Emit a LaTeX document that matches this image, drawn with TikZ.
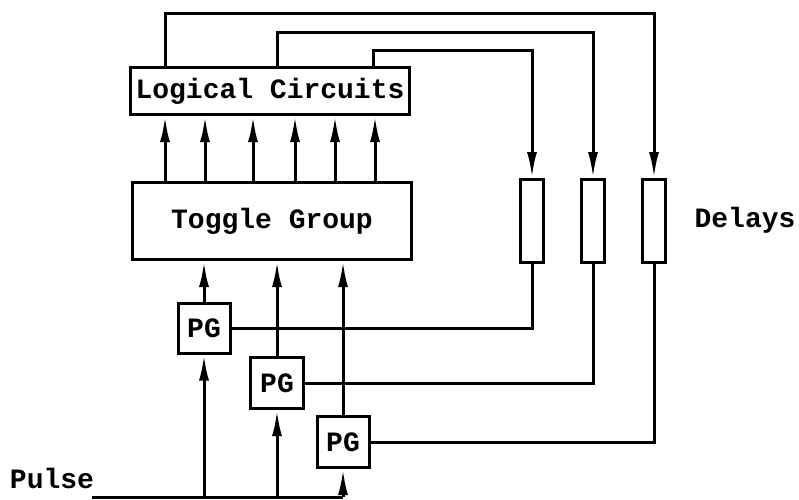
\documentclass[tikz,border=0pt]{standalone}
\usepackage{fontspec}
\setmonofont{Liberation Mono}
\usetikzlibrary{arrows.meta}

\begin{document}
\begin{tikzpicture}[x=1pt,y=-1pt,line width=3pt,
  lbl/.style={font=\ttfamily\bfseries\fontsize{28}{30}\selectfont},
  box/.style={lbl,draw,inner sep=0pt},
  arr/.style={-{Latex[length=26pt,width=10pt]}}]
\useasboundingbox (0,0) rectangle (799,499);
\node[box,minimum width=279pt,minimum height=47pt] (lc) at (270,91) {Logical Circuits};
\node[box,minimum width=279pt,minimum height=77pt] (tg) at (272,221) {Toggle Group};
\node[box,minimum width=23pt,minimum height=83pt] (d1) at (532,221) {};
\node[box,minimum width=23pt,minimum height=83pt] (d2) at (593,221) {};
\node[box,minimum width=23pt,minimum height=83pt] (d3) at (654,221) {};
\node[lbl] (dl) at (745,220) {Delays};
\node[box,minimum width=52pt,minimum height=50pt] (pg1) at (204,328) {PG};
\node[box,minimum width=53pt,minimum height=51pt] (pg2) at (277,383) {PG};
\node[box,minimum width=52pt,minimum height=51pt] (pg3) at (343,442) {PG};
\node[lbl] (pls) at (52,478) {Pulse};
\coordinate (bus0) at (92,497);
\coordinate (bus1) at (343,497);
\foreach \xx in {165,205,253,295,335,375}
  \draw[arr] (tg.north -| \xx,0) -- (lc.south -| \xx,0);
\draw[arr] (lc.north -| 165,0) -- (165,13) -| (d3.north);
\draw[arr] (lc.north -| 277,0) -- (277,32) -| (d2.north);
\draw[arr] (lc.north -| 373,0) -- (373,50) -| (d1.north);
\draw (d1.south) |- (pg1.east);
\draw (d2.south) |- (pg2.east);
\draw (d3.south) |- (pg3.east);
\draw[arr] (pg1.north) -- (pg1.north |- tg.south);
\draw[arr] (pg2.north) -- (pg2.north |- tg.south);
\draw[arr] (pg3.north) -- (pg3.north |- tg.south);
\draw (bus0) -- (bus1);
\draw[arr] (pg1.south |- bus0) -- (pg1.south);
\draw[arr] (pg2.south |- bus0) -- (pg2.south);
\draw[arr] (pg3.south |- bus0) -- (pg3.south);
\end{tikzpicture}
\end{document}
